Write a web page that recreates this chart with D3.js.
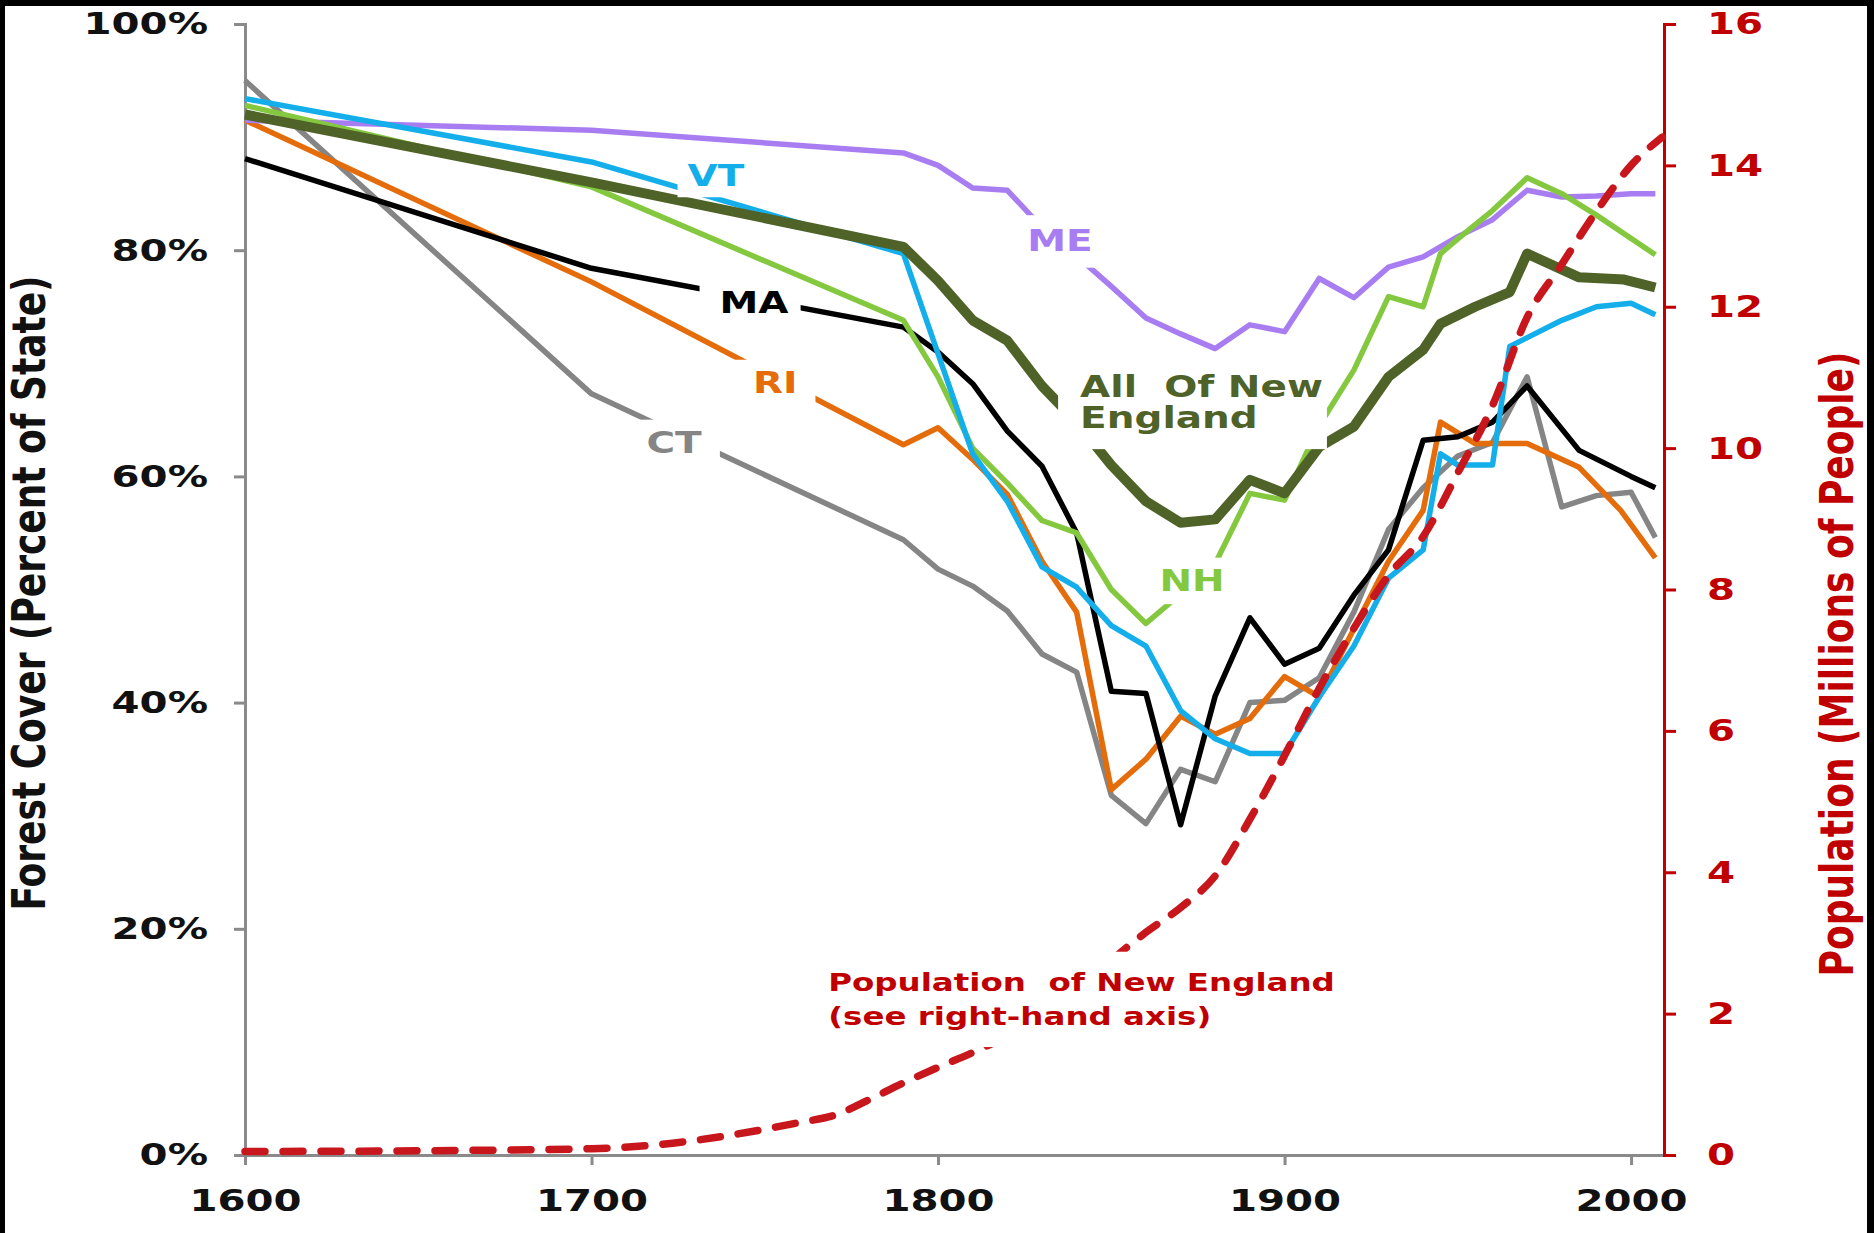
<!DOCTYPE html>
<html><head><meta charset="utf-8">
<script src="https://cdn.jsdelivr.net/npm/d3@7"></script>
<style>
html,body{margin:0;padding:0;background:#000;}
svg{display:block;}
</style></head><body>
<svg id="chart" width="1874" height="1233"></svg>
<script>
// ---------- DATA ----------
const xTicks = [1600, 1700, 1800, 1900, 2000];
const yTicks = [0, 20, 40, 60, 80, 100];
const popTicks = [0, 2, 4, 6, 8, 10, 12, 14, 16];

// Forest cover, percent of state: [year, percent]
const ME = [[1600,91.5],[1700,90.6],[1790,88.6],[1800,87.5],[1810,85.5],[1820,85.3],[1830,82],[1840,79.5],[1850,76.8],[1860,74],[1870,72.6],[1880,71.3],[1890,73.4],[1900,72.8],[1910,77.5],[1920,75.8],[1930,78.5],[1940,79.4],[1950,81.2],[1960,82.7],[1970,85.3],[1980,84.7],[1990,84.8],[2000,85],[2007,85]];
const VT = [[1600,93.4],[1700,87.8],[1790,79.7],[1810,62],[1820,57.8],[1830,52],[1840,50.2],[1850,46.8],[1860,45],[1870,39.3],[1880,36.8],[1890,35.5],[1900,35.5],[1910,40.5],[1920,45],[1930,51],[1940,53.5],[1945,62],[1950,61],[1960,61],[1965,71.5],[1980,73.8],[1990,75],[2000,75.3],[2007,74.3]];
const NH = [[1600,92.8],[1700,85.6],[1790,73.8],[1800,68.8],[1810,62.5],[1820,59.4],[1830,56.1],[1840,55],[1850,50],[1860,47],[1870,49.6],[1880,52.3],[1890,58.5],[1900,57.9],[1910,64.5],[1920,69.4],[1930,75.9],[1940,75],[1945,79.7],[1950,81],[1960,83.5],[1970,86.4],[1980,85],[1990,83.1],[2007,79.6]];
const MA = [[1600,88.1],[1700,78.4],[1790,73.2],[1800,71],[1810,68.2],[1820,64],[1830,60.9],[1840,55],[1850,41],[1860,40.8],[1870,29.2],[1880,40.6],[1890,47.5],[1900,43.4],[1910,44.8],[1920,49.5],[1930,53.5],[1940,63.2],[1950,63.5],[1960,64.8],[1970,68],[1985,62.3],[2000,60],[2007,59]];
const RI = [[1600,91.5],[1700,77.2],[1790,62.8],[1800,64.3],[1810,61.5],[1820,58.4],[1830,52.5],[1840,48],[1850,32.3],[1860,35],[1870,38.8],[1880,37.2],[1890,38.6],[1900,42.3],[1910,40.5],[1920,46.5],[1930,52.5],[1940,57],[1945,64.8],[1955,62.9],[1970,62.9],[1985,60.8],[1997,57],[2007,52.8]];
const CT = [[1600,95],[1700,67.3],[1790,54.4],[1800,51.8],[1810,50.3],[1820,48.1],[1830,44.3],[1840,42.7],[1850,31.8],[1860,29.3],[1870,34.1],[1880,33],[1890,40],[1900,40.2],[1910,42.2],[1920,48],[1930,55.3],[1940,59],[1950,61.8],[1960,63],[1970,68.8],[1980,57.3],[1990,58.3],[2000,58.6],[2007,54.6]];
const NE = [[1600,92],[1700,86],[1790,80.3],[1800,77.3],[1810,73.8],[1820,72],[1830,68],[1840,64.8],[1850,61],[1860,57.8],[1870,55.9],[1880,56.2],[1890,59.7],[1900,58.5],[1910,62.6],[1920,64.4],[1930,68.8],[1940,71.2],[1945,73.5],[1955,75],[1965,76.3],[1970,79.7],[1985,77.6],[1998,77.4],[2007,76.7]];
// Population of New England, millions: [year, millions]
const POP = [[1600,0.05],[1650,0.06],[1700,0.09],[1720,0.15],[1740,0.28],[1760,0.46],[1770,0.56],[1780,0.78],[1790,1.02],[1800,1.24],[1810,1.45],[1820,1.68],[1830,1.95],[1840,2.25],[1850,2.75],[1860,3.15],[1870,3.5],[1880,3.95],[1890,4.75],[1900,5.65],[1910,6.6],[1920,7.45],[1930,8.2],[1940,8.75],[1950,9.65],[1960,10.6],[1970,11.85],[1980,12.6],[1990,13.35],[2000,14.0],[2009,14.4]];

// ---------- SETUP ----------
const W = 1874, H = 1233;
const FONT = "'DejaVu Sans', Verdana, sans-serif";
const SX = 1.3; // horizontal stretch of the lettering
const C = {ME:"#A97DF2", VT:"#14AEEA", NH:"#84C83F", MA:"#000000", RI:"#E46C0A", CT:"#858585", NE:"#4F6228", POP:"#C8161D", RED:"#C00000", AXIS:"#8A8A8A"};

const svg = d3.select("#chart");
svg.append("rect").attr("width", W).attr("height", H).attr("fill", "#000");
svg.append("rect").attr("x", 5).attr("y", 6).attr("width", W - 12).attr("height", H - 6).attr("fill", "#fff");

const x = d3.scaleLinear().domain([1600, 2009.5]).range([245, 1664]);
const y = d3.scaleLinear().domain([0, 100]).range([1155, 24]);
const yPop = d3.scaleLinear().domain([0, 16]).range([1155, 24]);

function styleTicks(g, color, size) {
  g.selectAll("text")
    .attr("font-family", FONT).attr("font-size", size).attr("font-weight", "bold").attr("fill", color)
    .each(function () {
      const t = d3.select(this);
      if (t.attr("x") !== null) t.attr("x", +t.attr("x") / SX);
      t.attr("transform", `scale(${SX},1)`);
    });
}

// Left axis
const gL = svg.append("g").attr("transform", `translate(${x(1600)},0)`)
  .call(d3.axisLeft(y).tickValues(yTicks).tickSize(11).tickPadding(26).tickFormat(d => d + "%"));
gL.select(".domain").attr("stroke", C.AXIS).attr("stroke-width", 3);
gL.selectAll(".tick line").attr("stroke", C.AXIS).attr("stroke-width", 3);
styleTicks(gL, "#111", 31);

// Bottom axis
const gB = svg.append("g").attr("transform", `translate(0,${y(0)})`)
  .call(d3.axisBottom(x).tickValues(xTicks).tickSize(10).tickSizeOuter(0).tickPadding(24).tickFormat(d3.format("d")));
gB.select(".domain").attr("stroke", C.AXIS).attr("stroke-width", 3);
gB.selectAll(".tick line").attr("stroke", C.AXIS).attr("stroke-width", 3);
styleTicks(gB, "#111", 31);

// Right axis
const gR = svg.append("g").attr("transform", `translate(${x.range()[1]},0)`)
  .call(d3.axisRight(yPop).tickValues(popTicks).tickSize(12).tickPadding(31));
gR.select(".domain").attr("stroke", C.RED).attr("stroke-width", 3);
gR.selectAll(".tick line").attr("stroke", C.RED).attr("stroke-width", 3);
styleTicks(gR, C.RED, 31);

// Axis titles
svg.append("text").attr("transform", `translate(45,593) scale(${SX},1) rotate(-90)`)
  .attr("text-anchor", "middle").attr("font-family", FONT).attr("font-weight", "bold")
  .attr("font-size", 36).attr("fill", "#111").text("Forest Cover (Percent of State)");
svg.append("text").attr("transform", `translate(1853,664) scale(${SX},1) rotate(-90)`)
  .attr("text-anchor", "middle").attr("font-family", FONT).attr("font-weight", "bold")
  .attr("font-size", 36).attr("fill", C.RED).text("Population (Millions of People)");

// ---------- LINES ----------
const line = d3.line().x(d => x(d[0])).y(d => y(d[1]));
const series = [
  {data: CT, color: C.CT, w: 5.5},
  {data: RI, color: C.RI, w: 5.5},
  {data: MA, color: C.MA, w: 5.5},
  {data: ME, color: C.ME, w: 5.5},
  {data: NH, color: C.NH, w: 5.5},
  {data: VT, color: C.VT, w: 5.5},
  {data: NE, color: C.NE, w: 10}
];
svg.append("g").selectAll("path").data(series).join("path")
  .attr("d", s => line(s.data)).attr("fill", "none")
  .attr("stroke", s => s.color).attr("stroke-width", s => s.w)
  .attr("stroke-linejoin", "round").attr("stroke-linecap", "butt");

const popLine = d3.line().x(d => x(d[0])).y(d => yPop(d[1])).curve(d3.curveMonotoneX);
svg.append("path").attr("d", popLine(POP)).attr("fill", "none")
  .attr("stroke", C.POP).attr("stroke-width", 7.5).attr("stroke-linecap", "round")
  .attr("stroke-dasharray", "20,18");

// ---------- LABELS (white boxes break the lines) ----------
function label(lines, px, py, color, size, anchor, pad, lh) {
  const g = svg.append("g").attr("transform", `translate(${px},${py}) scale(${SX},1)`);
  const rect = g.append("rect").attr("fill", "#fff");
  const t = g.append("text").attr("font-family", FONT).attr("font-weight", "bold")
    .attr("font-size", size).attr("fill", color).attr("text-anchor", anchor)
    .style("white-space", "pre");
  lines.forEach((s, i) => {
    t.append("tspan").attr("x", 0).attr("dy", i === 0 ? (anchor === "middle" ? "0.36em" : 0) : lh).text(s);
  });
  const b = t.node().getBBox();
  rect.attr("x", b.x - pad[3] / SX).attr("y", b.y - pad[0])
    .attr("width", b.width + (pad[1] + pad[3]) / SX).attr("height", b.height + pad[0] + pad[2]);
}
label(["VT"], x(1735.9), y(86.6), C.VT, 30, "middle", [4, 10, 4, 10]);
label(["ME"], x(1835.2), y(80.9), C.ME, 30, "middle", [8, 14, 10, 12]);
label(["MA"], x(1746.9), y(75.4), C.MA, 30, "middle", [4, 12, 4, 20]);
label(["RI"], x(1753), y(68.3), C.RI, 30, "middle", [6, 18, 8, 20]);
label(["CT"], x(1723.8), y(63.0), C.CT, 30, "middle", [6, 18, 6, 16]);
label(["NH"], x(1873.3), y(50.8), C.NH, 30, "middle", [6, 8, 6, 12]);
label(["All  Of New", "England"], x(1841), y(67.0), C.NE, 30, "start", [6, 4, 14, 22], 31);
label(["Population  of New England", "(see right-hand axis)"], x(1768.3), yPop(2.32), C.RED, 25, "start", [16, 6, 16, 8], 34);
</script>
</body></html>
